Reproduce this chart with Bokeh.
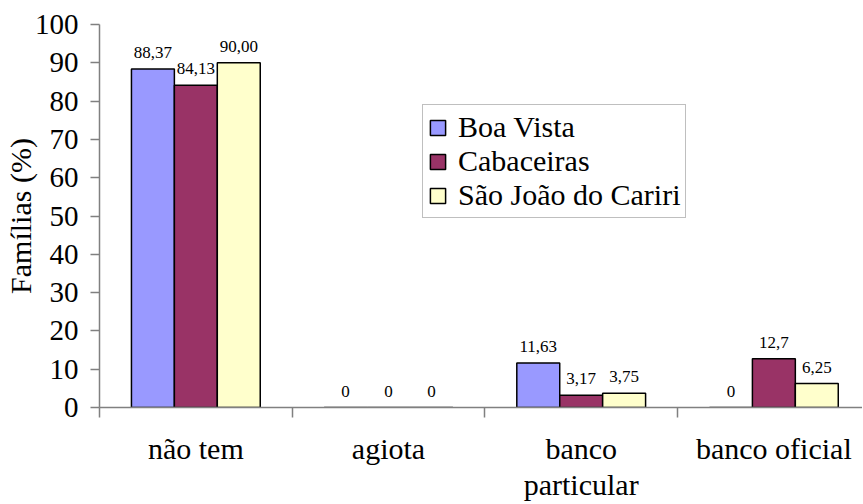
from bokeh.plotting import figure
from bokeh.models import Range1d, FixedTicker, ColumnDataSource, LabelSet
from bokeh.core.properties import value
from bokeh.embed import file_html
from bokeh.resources import INLINE

categories = ["não tem", "agiota", "banco\nparticular", "banco oficial"]
series_names = ["Boa Vista", "Cabaceiras", "São João do Cariri"]
boa_vista = [88.37, 0, 11.63, 0]
cabaceiras = [84.13, 0, 3.17, 12.7]
sao_joao = [90.00, 0, 3.75, 6.25]
boa_vista_labels = ["88,37", "0", "11,63", "0"]
cabaceiras_labels = ["84,13", "0", "3,17", "12,7"]
sao_joao_labels = ["90,00", "0", "3,75", "6,25"]
y_ticks = [0, 10, 20, 30, 40, 50, 60, 70, 80, 90, 100]
colors = ["#9999FF", "#993366", "#FFFFCC"]

FONT = "'Liberation Serif', 'Times New Roman', serif"
GRAY = "#808080"

p = figure(width=862, height=503,
           x_range=Range1d(0, 3.96), y_range=Range1d(0, 100),
           output_backend="svg", toolbar_location=None,
           min_border_left=98, min_border_right=0,
           min_border_top=24, min_border_bottom=96)
p.outline_line_color = None
p.xgrid.grid_line_color = None
p.ygrid.grid_line_color = None
p.background_fill_color = "white"

bw = 0.2228
offsets = [-bw, 0.0, bw]
all_vals = [boa_vista, cabaceiras, sao_joao]
all_labels = [boa_vista_labels, cabaceiras_labels, sao_joao_labels]

for name, vals, labs, col, off in zip(series_names, all_vals, all_labels, colors, offsets):
    xs = [i + 0.5 + off for i in range(len(categories))]
    src = ColumnDataSource(dict(x=xs, top=vals, text=labs))
    p.vbar(x="x", top="top", width=bw, source=src, fill_color=col,
           line_color="black", line_width=1.5, legend_label=name)
    ls = LabelSet(x="x", y="top", text="text", source=src,
                  text_align="center", text_baseline="alphabetic",
                  y_offset=11, text_font=value(FONT), text_font_size="17px",
                  text_color="black")
    p.add_layout(ls)

# x axis
p.xaxis.ticker = FixedTicker(ticks=[i + 0.5 for i in range(len(categories))],
                             minor_ticks=list(range(len(categories) + 1)))
p.xaxis.major_label_overrides = {i + 0.5: c for i, c in enumerate(categories)}
p.xaxis.major_tick_line_color = None
p.xaxis.major_tick_out = 0
p.xaxis.major_tick_in = 0
p.xaxis.minor_tick_line_color = GRAY
p.xaxis.minor_tick_line_width = 1.5
p.xaxis.minor_tick_out = 10
p.xaxis.minor_tick_in = 0
p.xaxis.axis_line_color = GRAY
p.xaxis.axis_line_width = 1.5
p.xaxis.major_label_text_font = FONT
p.xaxis.major_label_text_font_size = "30px"
p.xaxis.major_label_text_color = "black"
p.xaxis.major_label_text_line_height = 1.1
p.xaxis.major_label_standoff = 14

# y axis
p.yaxis.ticker = FixedTicker(ticks=y_ticks)
p.yaxis.major_tick_line_color = GRAY
p.yaxis.major_tick_line_width = 1.5
p.yaxis.major_tick_out = 9
p.yaxis.major_tick_in = 0
p.yaxis.minor_tick_line_color = None
p.yaxis.axis_line_color = GRAY
p.yaxis.axis_line_width = 1.5
p.yaxis.major_label_text_font = FONT
p.yaxis.major_label_text_font_size = "29px"
p.yaxis.major_label_text_color = "black"
p.yaxis.major_label_standoff = 12
p.yaxis.axis_label = "Famílias (%)"
p.yaxis.axis_label_text_font = FONT
p.yaxis.axis_label_text_font_size = "30px"
p.yaxis.axis_label_text_font_style = "normal"
p.yaxis.axis_label_text_color = "black"
p.yaxis.axis_label_standoff = -5

leg = p.legend[0]
leg.location = (323, 189)
leg.border_line_color = GRAY
leg.border_line_width = 1
leg.background_fill_color = "white"
leg.background_fill_alpha = 1
leg.label_text_font = FONT
leg.label_text_font_size = "30px"
leg.label_text_color = "black"
leg.label_text_line_height = 0.9
leg.glyph_width = 19
leg.glyph_height = 19
leg.label_standoff = 11
leg.spacing = 0
leg.padding = 5
leg.margin = 0
leg.label_height = 19

open("out.html", "w").write(file_html(p, INLINE))
